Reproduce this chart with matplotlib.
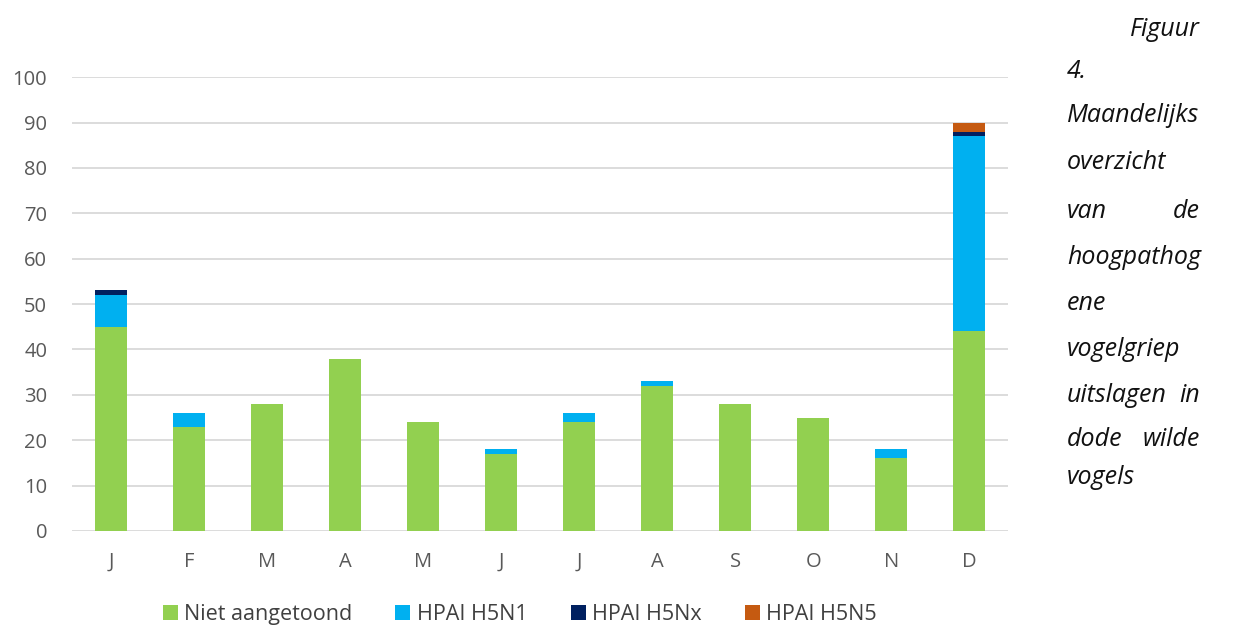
import numpy as np
import matplotlib.pyplot as plt

maanden = ['J', 'F', 'M', 'A', 'M', 'J', 'J', 'A', 'S', 'O', 'N', 'D']
niet_aangetoond = [45, 23, 28, 38, 24, 17, 24, 32, 28, 25, 16, 44]
h5n1 = [7, 3, 0, 0, 0, 1, 2, 1, 0, 0, 2, 43]
h5nx = [1, 0, 0, 0, 0, 0, 0, 0, 0, 0, 0, 1]
h5n5 = [0, 0, 0, 0, 0, 0, 0, 0, 0, 0, 0, 2]

reeksen = [
    ('Niet aangetoond', niet_aangetoond, '#92D050'),
    ('HPAI H5N1', h5n1, '#00B0F0'),
    ('HPAI H5Nx', h5nx, '#002060'),
    ('HPAI H5N5', h5n5, '#C55A11'),
]

plt.rcParams['font.family'] = ['Open Sans', 'DejaVu Sans']

fig = plt.figure(figsize=(12.45, 6.28), dpi=100)
ax = fig.add_axes([0.058, 0.1545, 0.752, 0.7225])

x = np.arange(len(maanden))
onder = np.zeros(len(maanden))
for naam, waarden, kleur in reeksen:
    ax.bar(x, waarden, 0.41, bottom=onder, color=kleur, label=naam, zorder=3)
    onder += np.array(waarden)

ax.set_xlim(-0.5, 11.5)
ax.set_ylim(0, 100)
ax.set_yticks(range(0, 101, 10))
ax.set_xticks(x)
ax.set_xticklabels(maanden)
ax.tick_params(length=0, labelsize=14.5, colors='#595959')
ax.tick_params(axis='x', pad=15)
ax.tick_params(axis='y', pad=18)
ax.grid(axis='y', color='#d9d9d9', linewidth=1.3, zorder=0)
for s in ax.spines.values():
    s.set_visible(False)

ax.legend(loc='center', bbox_to_anchor=(0.478, -0.185), ncol=4, frameon=False,
          fontsize=15.5, handlelength=0.7, handleheight=0.7, handletextpad=0.3,
          columnspacing=2.0, labelcolor='#404040')

# bijschrift rechts (uitgevuld)
regels = [
    ('Figuur', None, 30), ('4.', None, 72), ('Maandelijks', None, 116),
    ('overzicht', None, 162), ('van', 'de', 211), ('hoogpathog', None, 257),
    ('ene', None, 304), ('vogelgriep', None, 350), ('uitslagen', 'in', 395),
    ('dode', 'wilde', 440), ('vogels', None, 477),
]
fs = 18
for links, rechts, ypix in regels:
    y = 1 - ypix / 628
    if links == 'Figuur':
        fig.text(1200 / 1245, y, links, style='italic', fontsize=fs, color='#111111', va='center', ha='right')
        continue
    fig.text(1067 / 1245, y, links, style='italic', fontsize=fs, color='#111111', va='center', ha='left')
    if rechts:
        fig.text(1200 / 1245, y, rechts, style='italic', fontsize=fs, color='#111111', va='center', ha='right')

fig.savefig('out.png', dpi=100)
